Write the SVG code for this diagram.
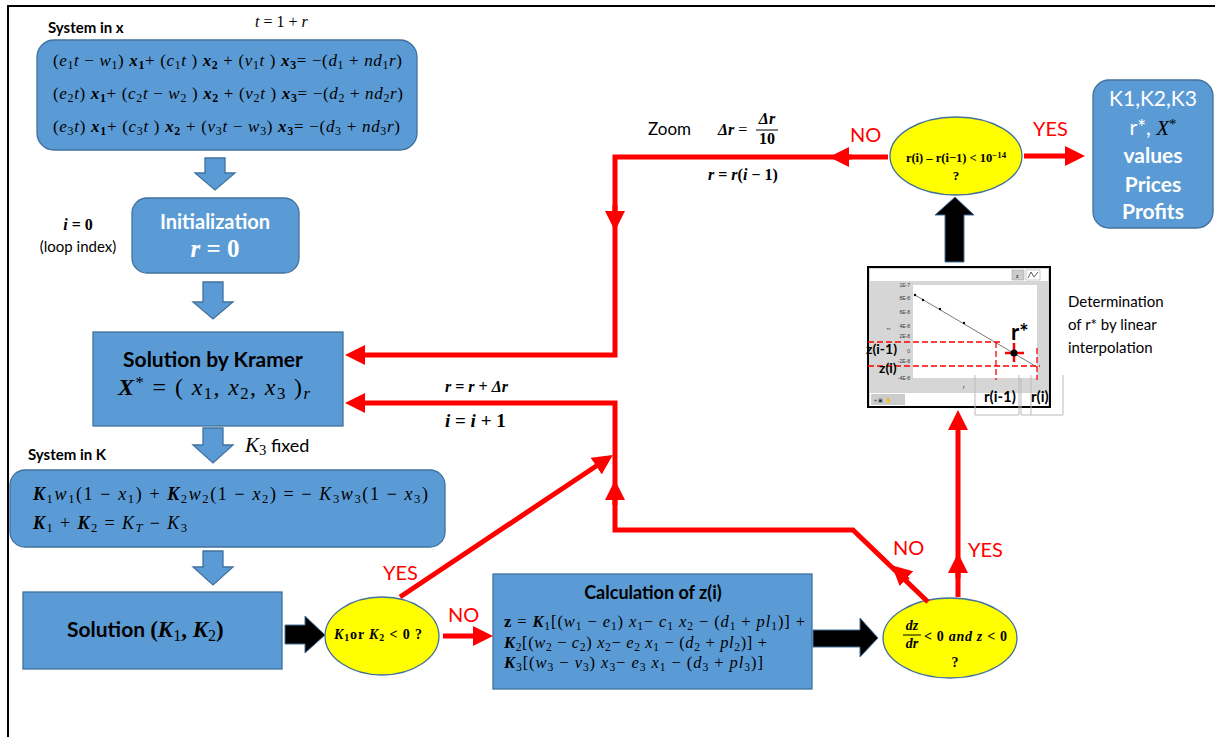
<svg xmlns="http://www.w3.org/2000/svg" width="1215" height="737" viewBox="0 0 1215 737">
<style>
.blue{fill:#5B9BD5;stroke:#41719C;stroke-width:1.3}
.yel{fill:#FFFF00;stroke:#41719C;stroke-width:1.3}
.blk{fill:#000;stroke:#41719C;stroke-width:1}
.red{fill:none;stroke:#FF0000;stroke-width:5}
.lbl{font-family:Lato,"Liberation Sans",sans-serif;fill:#000}
.rl{font-family:Lato,"Liberation Sans",sans-serif;fill:#FF0000;font-size:20px}
.m{font-family:"Liberation Serif","DejaVu Serif",serif;fill:#000}
.i{font-style:italic}
.b{font-weight:bold}
.bi{font-style:italic;font-weight:bold}
.sub{font-size:70%;baseline-shift:-22%}
.sup{font-size:70%;baseline-shift:40%}
.w{fill:#fff}
.tiny{font-family:"Liberation Sans",sans-serif;font-size:5px;fill:#333}
.dash{stroke:#FF0000;stroke-width:1.3;stroke-dasharray:6 3;fill:none}
</style>
<defs>
<marker id="ah" markerUnits="userSpaceOnUse" markerWidth="20" markerHeight="20" refX="1" refY="10" orient="auto">
<path d="M0,0 L20,10 L0,20 Z" fill="#FF0000"/>
</marker>
</defs>

<!-- frame -->
<path d="M8,737 V6 H1215" fill="none" stroke="#000" stroke-width="2"/>

<g id="systemX">
<text class="lbl b" x="48" y="33" font-size="15">System in x</text>
<text class="m i" x="255" y="27" font-size="16">t <tspan font-style="normal">= 1 +</tspan> r</text>
<rect class="blue" x="37" y="40" width="380" height="110" rx="17"/>
<text class="m" x="53" y="66" font-size="17" textLength="349" lengthAdjust="spacing">(<tspan class="i">e</tspan><tspan class="sub">1</tspan><tspan class="i">t</tspan> − <tspan class="i">w</tspan><tspan class="sub">1</tspan>) <tspan class="bi">x</tspan><tspan class="sub b">1</tspan>+ (<tspan class="i">c</tspan><tspan class="sub">1</tspan><tspan class="i">t</tspan> ) <tspan class="bi">x</tspan><tspan class="sub b">2</tspan>  + (<tspan class="i">v</tspan><tspan class="sub">1</tspan><tspan class="i">t</tspan> ) <tspan class="bi">x</tspan><tspan class="sub b">3</tspan>= −(<tspan class="i">d</tspan><tspan class="sub">1</tspan> + <tspan class="i">nd</tspan><tspan class="sub">1</tspan><tspan class="i">r</tspan>)</text>
<text class="m" x="53" y="99" font-size="17" textLength="350" lengthAdjust="spacing">(<tspan class="i">e</tspan><tspan class="sub">2</tspan><tspan class="i">t</tspan>) <tspan class="bi">x</tspan><tspan class="sub b">1</tspan>+ (<tspan class="i">c</tspan><tspan class="sub">2</tspan><tspan class="i">t</tspan> − <tspan class="i">w</tspan><tspan class="sub">2</tspan> ) <tspan class="bi">x</tspan><tspan class="sub b">2</tspan>  + (<tspan class="i">v</tspan><tspan class="sub">2</tspan><tspan class="i">t</tspan> ) <tspan class="bi">x</tspan><tspan class="sub b">3</tspan>= −(<tspan class="i">d</tspan><tspan class="sub">2</tspan> + <tspan class="i">nd</tspan><tspan class="sub">2</tspan><tspan class="i">r</tspan>)</text>
<text class="m" x="53" y="132" font-size="17" textLength="347" lengthAdjust="spacing">(<tspan class="i">e</tspan><tspan class="sub">3</tspan><tspan class="i">t</tspan>) <tspan class="bi">x</tspan><tspan class="sub b">1</tspan>+ (<tspan class="i">c</tspan><tspan class="sub">3</tspan><tspan class="i">t</tspan> ) <tspan class="bi">x</tspan><tspan class="sub b">2</tspan>  + (<tspan class="i">v</tspan><tspan class="sub">3</tspan><tspan class="i">t</tspan> − <tspan class="i">w</tspan><tspan class="sub">3</tspan>) <tspan class="bi">x</tspan><tspan class="sub b">3</tspan>= −(<tspan class="i">d</tspan><tspan class="sub">3</tspan> + <tspan class="i">nd</tspan><tspan class="sub">3</tspan><tspan class="i">r</tspan>)</text>
</g>

<g id="blockArrows">
<path class="blue" d="M205,158 H225 V173 H235 L215,190 L195,173 H205 Z"/>
<path class="blue" d="M203,282 H223 V302 H233 L213,319 L193,302 H203 Z"/>
<path class="blue" d="M203,428 H223 V445 H233 L213,463 L193,445 H203 Z"/>
<path class="blue" d="M203,551 H223 V567 H233 L213,585 L193,567 H203 Z"/>
<path class="blk" d="M285,625 H305 V616 L325,635 L305,653 V644 H285 Z"/>
<path class="blk" d="M813,630 H860 V618 L878,638 L860,657 V647 H813 Z"/>
<path class="blk" d="M945,262 V215 H935 L955,197 L974,215 H964 V262 Z"/>
</g>

<g id="init">
<rect class="blue" x="132" y="198" width="167" height="75" rx="15"/>
<text class="lbl b w" x="215" y="229" font-size="20" text-anchor="middle">Initialization</text>
<text class="m bi w" x="215" y="257" font-size="25" text-anchor="middle">r <tspan font-style="normal">= 0</tspan></text>
<text class="m bi" x="78" y="230" font-size="16" text-anchor="middle">i <tspan font-style="normal">= 0</tspan></text>
<text class="lbl" x="78" y="252" font-size="15" text-anchor="middle">(loop index)</text>
</g>

<g id="kramer">
<rect class="blue" x="93" y="332" width="250" height="94"/>
<text class="lbl b" x="213" y="367" font-size="21" text-anchor="middle">Solution by Kramer</text>
<text class="m" x="118" y="395" font-size="24" textLength="192" lengthAdjust="spacing"><tspan class="bi">X</tspan><tspan class="sup">*</tspan> = ( <tspan class="i">x</tspan><tspan class="sub">1</tspan>, <tspan class="i">x</tspan><tspan class="sub">2</tspan>, <tspan class="i">x</tspan><tspan class="sub">3</tspan> )<tspan class="sub i">r</tspan></text>
</g>

<g id="k3fixed">
<text class="m i" x="245" y="452" font-size="21">K<tspan class="sub" font-style="normal">3</tspan><tspan font-family="Lato,'Liberation Sans',sans-serif" font-style="normal" font-size="18"> fixed</tspan></text>
</g>

<g id="systemK">
<text class="lbl b" x="28" y="460" font-size="15">System in K</text>
<rect class="blue" x="10" y="470" width="435" height="77" rx="15"/>
<text class="m" x="33" y="500" font-size="18" textLength="395" lengthAdjust="spacing"><tspan class="bi">K</tspan><tspan class="sub">1</tspan><tspan class="i">w</tspan><tspan class="sub">1</tspan>(1 − <tspan class="i">x</tspan><tspan class="sub">1</tspan>) +  <tspan class="bi">K</tspan><tspan class="sub">2</tspan><tspan class="i">w</tspan><tspan class="sub">2</tspan>(1 − <tspan class="i">x</tspan><tspan class="sub">2</tspan>) = − <tspan class="i">K</tspan><tspan class="sub">3</tspan><tspan class="i">w</tspan><tspan class="sub">3</tspan>(1 − <tspan class="i">x</tspan><tspan class="sub">3</tspan>)</text>
<text class="m" x="33" y="529" font-size="18" textLength="154" lengthAdjust="spacing"><tspan class="bi">K</tspan><tspan class="sub">1</tspan> + <tspan class="bi">K</tspan><tspan class="sub">2</tspan> = <tspan class="i">K</tspan><tspan class="sub i">T</tspan> − <tspan class="i">K</tspan><tspan class="sub">3</tspan></text>
</g>

<g id="solutionK">
<rect class="blue" x="23" y="592" width="259" height="77"/>
<text class="lbl b" x="67" y="637" font-size="21">Solution <tspan class="m b" font-size="23">(<tspan class="bi">K</tspan><tspan class="sub" font-weight="normal">1</tspan>, <tspan class="bi">K</tspan><tspan class="sub" font-weight="normal">2</tspan>)</tspan></text>
</g>

<g id="test1">
<ellipse class="yel" cx="382" cy="636" rx="57" ry="39"/>
<text class="m b" x="334" y="639" font-size="14" textLength="88" lengthAdjust="spacing"><tspan class="bi">K</tspan><tspan class="sub">1</tspan>or <tspan class="bi">K</tspan><tspan class="sub">2</tspan> &lt; 0  ?</text>
</g>

<g id="calc">
<rect class="blue" x="493" y="574" width="319" height="115"/>
<text class="lbl b" x="653" y="599" font-size="18" text-anchor="middle">Calculation of z(i)</text>
<text class="m" x="504" y="627" font-size="16.5" textLength="301" lengthAdjust="spacing"><tspan class="b">z</tspan> = <tspan class="bi">K</tspan><tspan class="sub">1</tspan>[(<tspan class="i">w</tspan><tspan class="sub">1</tspan> − <tspan class="i">e</tspan><tspan class="sub">1</tspan>) <tspan class="i">x</tspan><tspan class="sub">1</tspan>− <tspan class="i">c</tspan><tspan class="sub">1</tspan> <tspan class="i">x</tspan><tspan class="sub">2</tspan> − (<tspan class="i">d</tspan><tspan class="sub">1</tspan> + <tspan class="i">pl</tspan><tspan class="sub">1</tspan>)] +</text>
<text class="m" x="504" y="648" font-size="16.5" textLength="263" lengthAdjust="spacing"><tspan class="bi">K</tspan><tspan class="sub">2</tspan>[(<tspan class="i">w</tspan><tspan class="sub">2</tspan> − <tspan class="i">c</tspan><tspan class="sub">2</tspan>) <tspan class="i">x</tspan><tspan class="sub">2</tspan>− <tspan class="i">e</tspan><tspan class="sub">2</tspan> <tspan class="i">x</tspan><tspan class="sub">1</tspan> − (<tspan class="i">d</tspan><tspan class="sub">2</tspan> + <tspan class="i">pl</tspan><tspan class="sub">2</tspan>)] +</text>
<text class="m" x="504" y="668" font-size="16.5" textLength="259" lengthAdjust="spacing"><tspan class="bi">K</tspan><tspan class="sub">3</tspan>[(<tspan class="i">w</tspan><tspan class="sub">3</tspan> − <tspan class="i">v</tspan><tspan class="sub">3</tspan>) <tspan class="i">x</tspan><tspan class="sub">3</tspan>− <tspan class="i">e</tspan><tspan class="sub">3</tspan> <tspan class="i">x</tspan><tspan class="sub">1</tspan> − (<tspan class="i">d</tspan><tspan class="sub">3</tspan> + <tspan class="i">pl</tspan><tspan class="sub">3</tspan>)]</text>
</g>

<g id="test2">
<ellipse class="yel" cx="950" cy="638" rx="67" ry="40"/>
<text class="m bi" x="912" y="630" font-size="14" text-anchor="middle">dz</text>
<line x1="903" y1="635" x2="921" y2="635" stroke="#000" stroke-width="1"/>
<text class="m bi" x="912" y="648" font-size="14" text-anchor="middle">dr</text>
<text class="m b" x="924" y="641" font-size="14" textLength="83" lengthAdjust="spacing">&lt; 0 <tspan class="bi">and z</tspan> &lt; 0</text>
<text class="m b" x="955" y="667" font-size="14" text-anchor="middle">?</text>
</g>

<g id="test3">
<ellipse class="yel" cx="956" cy="156" rx="66" ry="39"/>
<text class="m b" x="956" y="162" font-size="12.5" text-anchor="middle">r(i) – r(i−1) &lt; 10<tspan class="sup">−14</tspan></text>
<text class="m b" x="956" y="180" font-size="13" text-anchor="middle">?</text>
</g>

<g id="result">
<rect class="blue" x="1093" y="80" width="120" height="148" rx="16"/>
<text class="lbl w" x="1153" y="106" font-size="21" text-anchor="middle">K1,K2,K3</text>
<text class="lbl w" x="1153" y="135" font-size="21" text-anchor="middle">r*, <tspan class="m i">X</tspan><tspan class="m sup">*</tspan></text>
<text class="lbl b w" x="1153" y="163" font-size="21" text-anchor="middle">values</text>
<text class="lbl b w" x="1153" y="192" font-size="21" text-anchor="middle">Prices</text>
<text class="lbl b w" x="1153" y="219" font-size="21" text-anchor="middle">Profits</text>
</g>

<g id="graph">
<rect x="868" y="267" width="182" height="140" fill="#d6d6d6" stroke="#000" stroke-width="2"/>
<rect x="870" y="269" width="178" height="12" fill="#fff"/>
<rect x="1012" y="270" width="12" height="10" fill="#ccc" stroke="#999" stroke-width="0.5"/>
<text class="tiny" x="1016" y="278" font-weight="bold">z</text>
<rect x="1026" y="270" width="14" height="10" fill="#fff" stroke="#999" stroke-width="0.5"/>
<path d="M1028,278 L1031,272 L1034,277 L1038,272" fill="none" stroke="#333" stroke-width="0.8"/>
<rect x="913" y="285" width="124" height="93" fill="#fff"/>
<text class="tiny" x="910" y="287" text-anchor="end">1E-7</text>
<text class="tiny" x="910" y="300" text-anchor="end">8E-8</text>
<text class="tiny" x="910" y="314" text-anchor="end">6E-8</text>
<text class="tiny" x="910" y="328" text-anchor="end">4E-8</text>
<text class="tiny" x="910" y="338" text-anchor="end">2E-8</text>
<text class="tiny" x="910" y="353" text-anchor="end">0</text>
<text class="tiny" x="910" y="363" text-anchor="end">-2E-8</text>
<text class="tiny" x="910" y="380" text-anchor="end">-4E-8</text>
<text class="tiny" x="890" y="330" transform="rotate(-90 890 330)">z</text>
<text class="tiny" x="963" y="389">r</text>
<line x1="915" y1="295" x2="1037" y2="367" stroke="#777" stroke-width="1"/>
<g fill="#000"><circle cx="915" cy="295" r="1.2"/><circle cx="923" cy="300" r="1.2"/><circle cx="940" cy="309" r="1.2"/><circle cx="964" cy="323" r="1.2"/></g>
<rect x="870" y="393" width="178" height="13" fill="#fff"/>
<rect x="871" y="394" width="34" height="11" fill="#ccc"/>
<text class="tiny" x="874" y="402" font-size="7">+ ▣ ✋</text>
<path class="dash" d="M868,342 H1000 M868,366 H1040 M996,342 V380 M1037,348 V380"/>
<path d="M1005,353 H1024 M1014,343 V362" stroke="#FF0000" stroke-width="2.5"/>
<circle cx="1014" cy="353" r="3.5" fill="#000"/>
<text class="lbl b" x="1011" y="340" font-size="22">r*</text>
<text class="lbl b" x="866" y="354" font-size="14">z(i-1)</text>
<text class="lbl b" x="879" y="373" font-size="14">z(i)</text>
<path d="M975,375 V415 H1019 V375 M1021,378 V415 H1031 M1031,375 V415 H1063 V375" fill="none" stroke="#bbb" stroke-width="1"/>
<text class="lbl b" x="984" y="402" font-size="15">r(i-1)</text>
<text class="lbl b" x="1031" y="402" font-size="15">r(i)</text>
</g>
<g id="note">
<text class="lbl" x="1068" y="307" font-size="15">Determination</text>
<text class="lbl" x="1068" y="330" font-size="15">of r* by linear</text>
<text class="lbl" x="1068" y="353" font-size="15">interpolation</text>
</g>

<g id="connectors">
<path class="red" d="M888,157 H615 V355 H364" marker-end="url(#ah)"/>
<path class="red" d="M852,157 H848" marker-end="url(#ah)"/>
<path class="red" d="M615,205 V212" marker-end="url(#ah)"/>
<path class="red" d="M928,602 L853,530 H615 V403 H364" marker-end="url(#ah)"/>
<path class="red" d="M908,580.2 L905.7,578.1" marker-end="url(#ah)"/>
<path class="red" d="M615,505 V499" marker-end="url(#ah)"/>
<path class="red" d="M400,597 L597,465.5" marker-end="url(#ah)"/>
<path class="red" d="M443,636 H474" marker-end="url(#ah)"/>
<path class="red" d="M1024,156 H1066" marker-end="url(#ah)"/>
<path class="red" d="M958,597 V429" marker-end="url(#ah)"/>
<path class="red" d="M958,578 V572" marker-end="url(#ah)"/>
</g>

<g id="labels">
<text class="rl" x="850" y="142">NO</text>
<text class="rl" x="1033" y="136">YES</text>
<text class="rl" x="383" y="580">YES</text>
<text class="rl" x="448" y="622">NO</text>
<text class="rl" x="893" y="555">NO</text>
<text class="rl" x="968" y="557">YES</text>
<text class="lbl" x="648" y="135" font-size="17">Zoom</text>
<text class="m bi" x="718" y="135" font-size="16">Δr <tspan font-style="normal" font-weight="normal">=</tspan></text>
<text class="m bi" x="767" y="124" font-size="16" text-anchor="middle">Δr</text>
<line x1="756" y1="130" x2="778" y2="130" stroke="#000" stroke-width="1"/>
<text class="m b" x="767" y="144" font-size="16" text-anchor="middle">10</text>
<text class="m bi" x="708" y="180" font-size="16">r <tspan font-style="normal">=</tspan> r<tspan font-style="normal">(</tspan>i <tspan font-style="normal">− 1)</tspan></text>
<text class="m bi" x="445" y="392" font-size="16">r <tspan font-style="normal">=</tspan> r <tspan font-style="normal">+</tspan> Δr</text>
<text class="m bi" x="445" y="427" font-size="19">i <tspan font-style="normal">=</tspan> i <tspan font-style="normal">+ 1</tspan></text>
</g>
</svg>
